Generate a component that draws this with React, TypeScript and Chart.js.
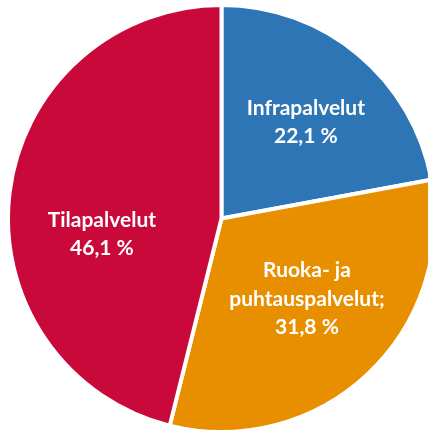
import React, { useEffect, useRef } from "react";
import { Chart, registerables } from "chart.js";

Chart.register(...registerables);

const categories = ["Infrapalvelut", "Ruoka- ja puhtauspalvelut", "Tilapalvelut"];
const shares = [22.1, 31.8, 46.1];
const labelLines = [
  ["Infrapalvelut", "22,1 %"],
  ["Ruoka- ja", "puhtauspalvelut;", "31,8 %"],
  ["Tilapalvelut", "46,1 %"],
];
const colors = ["#2E75B6", "#E88F00", "#C8093A"];

// label placement relative to slice: angle offset (deg) and radius fraction
const labelPlacement = [
  { dAngle: 1.4, frac: 0.6 },
  { dAngle: -3.5, frac: 0.55 },
  { dAngle: -14.5, frac: 0.565 },
];

const labelPlugin = {
  id: "sliceLabels",
  afterDatasetsDraw(chart: any) {
    const ctx = chart.ctx;
    const meta = chart.getDatasetMeta(0);
    ctx.save();
    ctx.fillStyle = "#ffffff";
    ctx.font = "bold 21px Lato";
    ctx.textAlign = "center";
    ctx.textBaseline = "middle";
    const lineH = 28.5;
    meta.data.forEach((arc: any, i: number) => {
      const p = arc.getProps(["x", "y", "startAngle", "endAngle", "outerRadius"], true);
      const mid = (p.startAngle + p.endAngle) / 2 + (labelPlacement[i].dAngle * Math.PI) / 180;
      const r = p.outerRadius * labelPlacement[i].frac;
      const cx = p.x + Math.cos(mid) * r;
      const cy = p.y + Math.sin(mid) * r;
      const lines = labelLines[i];
      const top = cy - ((lines.length - 1) * lineH) / 2;
      lines.forEach((t, j) => ctx.fillText(t, cx, top + j * lineH));
    });
    ctx.restore();
  },
};

const SIZE = 431;

export default function App() {
  const ref = useRef<HTMLCanvasElement>(null);
  useEffect(() => {
    if (!ref.current) return;
    const chart = new Chart(ref.current, {
      type: "pie",
      data: {
        labels: categories,
        datasets: [
          {
            data: shares,
            backgroundColor: colors,
            borderColor: "#ffffff",
            borderWidth: 4,
          },
        ],
      },
      options: {
        responsive: false,
        animation: false,
        layout: { padding: 0 },
        plugins: {
          legend: { display: false },
          tooltip: { enabled: false },
        },
      },
      plugins: [labelPlugin],
    });
    return () => chart.destroy();
  }, []);
  return (
    <div style={{ position: "fixed", left: 6, top: 3, width: SIZE, height: SIZE }}>
      <canvas ref={ref} width={SIZE} height={SIZE} style={{ width: SIZE, height: SIZE }} />
    </div>
  );
}
